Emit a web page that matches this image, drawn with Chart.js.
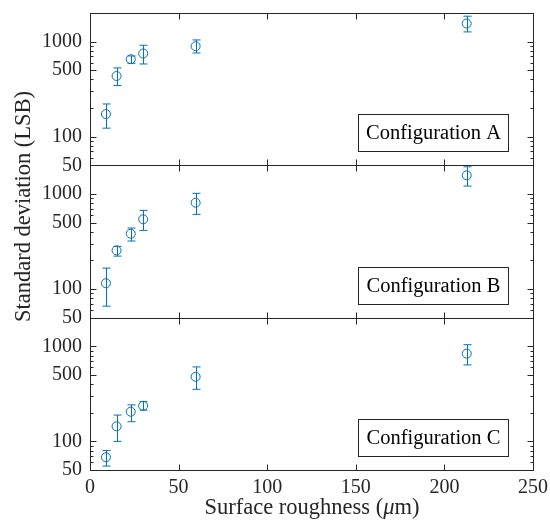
<!DOCTYPE html>
<html>
<head>
<meta charset="utf-8">
<style>
  html, body { margin: 0; padding: 0; background: #fff; }
  #wrap { width: 550px; height: 527px; }
</style>
<script src="https://cdn.jsdelivr.net/npm/chart.js@4/dist/chart.umd.min.js"></script>
</head>
<body>
<div id="wrap"><canvas id="chart" width="550" height="527"></canvas></div>
<script>
// surface roughness (um) of the samples
const roughness = [9, 15, 23, 30, 59.6, 212.6];

// Configuration A
const meanA = [173, 435, 653, 750, 895, 1551];
const lowA = [123, 345, 592, 582, 760, 1265];
const highA = [221, 529, 707, 916, 1042, 1851];

// Configuration B
const meanB = [115, 255, 382, 541, 809, 1570];
const lowB = [66, 222, 320, 414, 610, 1211];
const highB = [166, 281, 438, 672, 1015, 1930];

// Configuration C
const meanC = [68, 144, 205, 237, 478, 837];
const lowC = [55, 100, 161, 213, 353, 637];
const highC = [80, 189, 242, 262, 607, 1039];

const panelNames = ['Configuration A', 'Configuration B', 'Configuration C'];
const xTicks = [0, 50, 100, 150, 200, 250];
const yTicks = [50, 60, 70, 80, 90, 100, 200, 300, 400, 500, 600, 700, 800, 900, 1000, 2000];
const yLabelled = [50, 100, 500, 1000];

const blue = '#0072BD';
const axisColor = '#262626';
const serif = "'Liberation Serif', 'Times New Roman', serif";

const panelIds = ['yA', 'yB', 'yC'];
const errors = {
    yA: { low: lowA, high: highA },
    yB: { low: lowB, high: highB },
    yC: { low: lowC, high: highC },
};

const toPoints = (values) => values.map((v, i) => ({ x: roughness[i], y: v }));

const makeDataset = (values, axisId) => ({
    data: toPoints(values),
    yAxisID: axisId,
    showLine: false,
    pointStyle: 'circle',
    pointRadius: 4.5,
    pointHoverRadius: 4.5,
    pointBorderWidth: 1,
    pointBorderColor: blue,
    pointBackgroundColor: 'rgba(0,0,0,0)',
});

const makeYScale = () => ({
    type: 'logarithmic',
    position: 'left',
    stack: 'panels',
    stackWeight: 1,
    min: 50,
    max: 2000,
    afterBuildTicks: (scale) => {
        scale.ticks = yTicks.map((v) => ({ value: v, major: yLabelled.includes(v) }));
    },
    afterFit: (scale) => {
        scale.width = 90;
        scale.paddingTop = 0;
        scale.paddingBottom = 0;
    },
    grid: { display: false, drawTicks: false },
    border: { display: false },
    ticks: {
        autoSkip: false,
        padding: 8,
        color: axisColor,
        font: { family: serif, size: 20 },
        callback: (value) => (yLabelled.includes(value) ? String(value) : ''),
    },
});

const errorBars = {
    id: 'errorBars',
    afterDatasetsDraw(chart) {
        const ctx = chart.ctx;
        const xScale = chart.scales.x;
        ctx.save();
        ctx.strokeStyle = blue;
        ctx.lineWidth = 1;
        chart.data.datasets.forEach((ds) => {
            const yScale = chart.scales[ds.yAxisID];
            const err = errors[ds.yAxisID];
            ds.data.forEach((pt, i) => {
                const px = Math.round(xScale.getPixelForValue(pt.x)) + 0.5;
                const top = yScale.getPixelForValue(err.high[i]);
                const bottom = yScale.getPixelForValue(err.low[i]);
                ctx.beginPath();
                ctx.moveTo(px, top);
                ctx.lineTo(px, bottom);
                ctx.moveTo(px - 4, top);
                ctx.lineTo(px + 4, top);
                ctx.moveTo(px - 4, bottom);
                ctx.lineTo(px + 4, bottom);
                ctx.stroke();
            });
        });
        ctx.restore();
    },
};

const matlabAxes = {
    id: 'matlabAxes',
    afterDraw(chart) {
        const ctx = chart.ctx;
        const xScale = chart.scales.x;
        const left = Math.round(xScale.left) + 0.5;
        const right = Math.round(xScale.right) + 0.5;
        ctx.save();
        ctx.strokeStyle = axisColor;
        ctx.lineWidth = 1;

        panelIds.forEach((id, k) => {
            const s = chart.scales[id];
            const top = Math.round(s.top) + 0.5;
            const bottom = Math.round(s.bottom) + 0.5;

            ctx.beginPath();
            ctx.rect(left, top, right - left, bottom - top);
            ctx.stroke();

            ctx.beginPath();
            xScale.ticks.forEach((t) => {
                const px = Math.round(xScale.getPixelForValue(t.value)) + 0.5;
                ctx.moveTo(px, top);
                ctx.lineTo(px, top + 6);
                ctx.moveTo(px, bottom);
                ctx.lineTo(px, bottom - 6);
            });
            s.ticks.forEach((t) => {
                const py = Math.round(s.getPixelForValue(t.value)) + 0.5;
                const len = t.major ? 6 : 3;
                ctx.moveTo(left, py);
                ctx.lineTo(left + len, py);
                ctx.moveTo(right, py);
                ctx.lineTo(right - len, py);
            });
            ctx.stroke();

            // label box in the lower right corner of each panel
            const bw = 150;
            const bh = 37;
            const bx = right - 25 - bw;
            const by = bottom - 14 - bh;
            ctx.fillStyle = '#fff';
            ctx.fillRect(bx, by, bw, bh);
            ctx.strokeRect(bx, by, bw, bh);
            ctx.fillStyle = '#000';
            ctx.font = '20.5px ' + serif;
            ctx.textAlign = 'center';
            ctx.textBaseline = 'middle';
            ctx.fillText(panelNames[k], bx + bw / 2, by + bh / 2 + 1);
        });

        // axis titles
        ctx.fillStyle = axisColor;
        ctx.textBaseline = 'alphabetic';
        ctx.textAlign = 'left';
        const parts = [
            ['Surface roughness (', '22.5px ' + serif],
            ['\u03BC', 'italic 22.5px ' + serif],
            ['m)', '22.5px ' + serif],
        ];
        let total = 0;
        parts.forEach((p) => {
            ctx.font = p[1];
            total += ctx.measureText(p[0]).width;
        });
        let cx = (left + right) / 2 - total / 2;
        parts.forEach((p) => {
            ctx.font = p[1];
            ctx.fillText(p[0], cx, 514);
            cx += ctx.measureText(p[0]).width;
        });

        ctx.translate(24, 206.5);
        ctx.rotate(-Math.PI / 2);
        ctx.font = '22.5px ' + serif;
        ctx.textAlign = 'center';
        ctx.textBaseline = 'middle';
        ctx.fillText('Standard deviation (LSB)', 0, 0);
        ctx.restore();
    },
};

new Chart(document.getElementById('chart'), {
    type: 'scatter',
    data: {
        datasets: [
            makeDataset(meanA, 'yA'),
            makeDataset(meanB, 'yB'),
            makeDataset(meanC, 'yC'),
        ],
    },
    options: {
        responsive: false,
        animation: false,
        devicePixelRatio: 1,
        layout: {
            padding: { top: 13, right: 17, left: 0, bottom: 0 },
        },
        plugins: {
            legend: { display: false },
            tooltip: { enabled: false },
        },
        scales: {
            x: {
                type: 'linear',
                min: 0,
                max: 250,
                afterBuildTicks: (scale) => {
                    scale.ticks = xTicks.map((v) => ({ value: v }));
                },
                afterFit: (scale) => {
                    scale.height = 57;
                    scale.paddingLeft = 0;
                    scale.paddingRight = 0;
                },
                grid: { display: false, drawTicks: false },
                border: { display: false },
                ticks: {
                    autoSkip: false,
                    maxRotation: 0,
                    padding: 6,
                    color: axisColor,
                    font: { family: serif, size: 20 },
                },
            },
            // stacked axes are laid out bottom-up, so C comes first
            yC: makeYScale(),
            yB: makeYScale(),
            yA: makeYScale(),
        },
    },
    plugins: [errorBars, matlabAxes],
});
</script>
</body>
</html>
